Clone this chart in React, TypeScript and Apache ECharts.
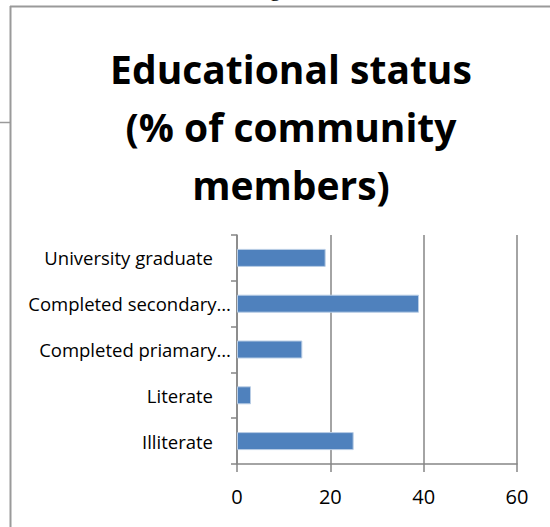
import React, { useEffect, useRef } from "react";
import * as echarts from "echarts";

const categories = [
  "Illiterate",
  "Literate",
  "Completed priamary…",
  "Completed secondary…",
  "University graduate",
];
const values = [25, 3, 14, 39, 19];
const titleLines = ["Educational status", "(% of community", "members)"];

export default function App() {
  const ref = useRef<HTMLDivElement>(null);
  useEffect(() => {
    if (!ref.current) return;
    const chart = echarts.init(ref.current, undefined, { renderer: "svg" });
    const font = "'Open Sans', 'Liberation Sans', sans-serif";
    chart.setOption({
      animation: false,
      backgroundColor: "#ffffff",
      title: {
        text: titleLines.join("\n"),
        left: 286,
        textAlign: "center",
        top: 34,
        textStyle: {
          fontFamily: font,
          fontWeight: "bold",
          fontSize: 39,
          lineHeight: 58,
          color: "#000000",
        },
      },
      graphic: [
        { type: "line", shape: { x1: 10.5, y1: 6, x2: 10.5, y2: 527 }, style: { stroke: "#9a9a9a", lineWidth: 2 } },
        { type: "line", shape: { x1: 10, y1: 6.5, x2: 550, y2: 6.5 }, style: { stroke: "#9a9a9a", lineWidth: 2 } },
        { type: "line", shape: { x1: 0, y1: 122.5, x2: 10, y2: 122.5 }, style: { stroke: "#9a9a9a", lineWidth: 1.5 } },
        {
          type: "text",
          x: 275,
          y: -1,
          style: {
            text: "g",
            fontFamily: "'Liberation Serif', serif",
            fontSize: 22,
            fill: "#000",
            textAlign: "center",
            textVerticalAlign: "bottom",
          },
        },
      ],
      grid: { left: 237, right: 33, top: 235, bottom: 63, containLabel: false },
      xAxis: {
        type: "value",
        min: 0,
        max: 60,
        interval: 20,
        axisLine: { show: true, lineStyle: { color: "#868686", width: 1.5 } },
        axisTick: { show: true, length: 8, lineStyle: { color: "#868686", width: 1.5 } },
        splitLine: { show: true, lineStyle: { color: "#868686", width: 1.5 } },
        axisLabel: { fontFamily: font, fontSize: 20, color: "#000", margin: 22 },
      },
      yAxis: {
        type: "category",
        data: categories,
        axisLine: { show: true, lineStyle: { color: "#868686", width: 1.5 } },
        axisTick: { show: true, length: 6, alignWithLabel: false, lineStyle: { color: "#868686", width: 1.5 } },
        axisLabel: {
          fontFamily: font,
          fontSize: 18.5,
          color: "#000",
          margin: 6,
          formatter: (v: string) => (v.endsWith("…") ? v : `{p|${v}}`),
          rich: {
            p: { fontFamily: font, fontSize: 18.5, color: "#000", padding: [0, 18, 0, 0] },
          },
        },
      },
      series: [
        {
          type: "bar",
          data: values,
          barWidth: 18,
          itemStyle: { color: "#4F81BD", borderColor: "#b9cde5", borderWidth: 1 },
        },
      ],
    });
    return () => chart.dispose();
  }, []);
  return (
    <div
      ref={ref}
      style={{ position: "fixed", left: 0, top: 0, width: 550, height: 527 }}
    />
  );
}
